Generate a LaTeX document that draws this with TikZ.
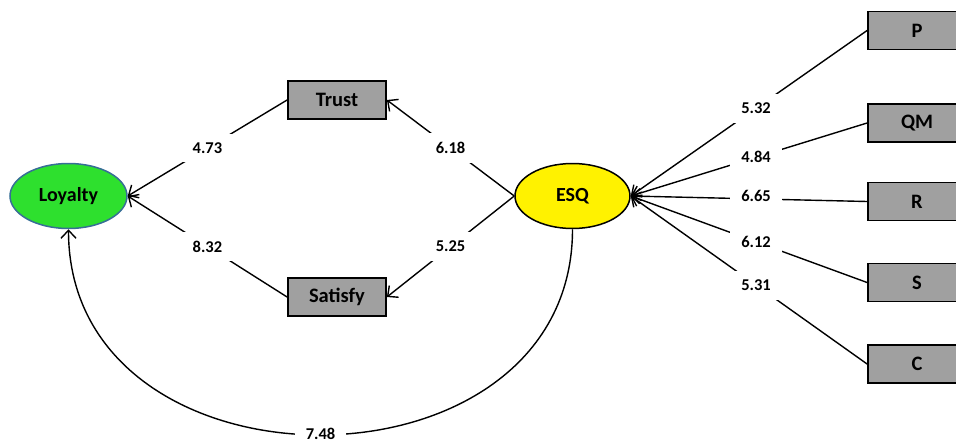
\documentclass[tikz,border=0pt]{standalone}
\usepackage{fontspec}
\setmainfont{Carlito}
\usetikzlibrary{arrows.meta,shapes.geometric}
\definecolor{loyfill}{RGB}{46,224,46}
\definecolor{loyedge}{RGB}{55,110,150}
\definecolor{boxgray}{RGB}{160,160,160}
\tikzset{
  sq/.style={draw=black, line width=1.8pt, fill=boxgray, minimum width=98pt, minimum height=38pt, inner sep=0pt,
    font=\fontsize{20.5}{20.5}\selectfont\bfseries},
  lat/.style={ellipse, line width=1.5pt, minimum width=117pt, minimum height=65pt, inner sep=0pt,
    font=\fontsize{20}{20}\selectfont\bfseries},
  lbl/.style={fill=white, inner xsep=11pt, inner ysep=9pt, font=\fontsize{16.5}{17}\selectfont\bfseries},
  conn/.style={line width=1.4pt, -{Straight Barb[length=8pt,width=15pt,line width=1.4pt]}},
}
\begin{document}
\begin{tikzpicture}[x=1pt,y=-1pt]
\useasboundingbox (0,0) rectangle (956,442);
\node[lat, draw=loyedge, fill=loyfill] (Loyalty) at (68.5,196) {Loyalty};
\node[lat, draw=black, fill=yellow, minimum width=115pt] (ESQ) at (572.5,196) {ESQ};
\node[sq] (Trust) at (337,100) {Trust};
\node[sq] (Satisfy) at (337,297) {Satisfy};
\node[sq] (P) at (917,30.5) {P};
\node[sq] (QM) at (917,123) {QM};
\node[sq] (R) at (917,201.5) {R};
\node[sq] (S) at (917,282.5) {S};
\node[sq] (C) at (917,364) {C};

\draw[conn] (Trust.west) -- node[lbl]{4.73} (Loyalty.east);
\draw[conn] (Satisfy.west) -- node[lbl]{8.32} (Loyalty.east);
\draw[conn] (ESQ.west) -- node[lbl]{6.18} (Trust.east);
\draw[conn] (ESQ.west) -- node[lbl]{5.25} (Satisfy.east);

\draw[conn] (P.west) -- node[lbl,pos=0.47]{5.32} (ESQ.east);
\draw[conn] (QM.west) -- node[lbl,pos=0.47]{4.84} (ESQ.east);
\draw[conn] (R.west) -- node[lbl,pos=0.47,yshift=3pt]{6.65} (ESQ.east);
\draw[conn] (S.west) -- node[lbl,pos=0.47]{6.12} (ESQ.east);
\draw[conn] (C.west) -- node[lbl,pos=0.47]{5.31} (ESQ.east);

\draw[conn] (ESQ.south) .. controls +(0,274) and +(0,274) .. node[lbl,pos=0.5,inner ysep=1pt,yshift=1pt]{7.48} (Loyalty.south);
\end{tikzpicture}
\end{document}
